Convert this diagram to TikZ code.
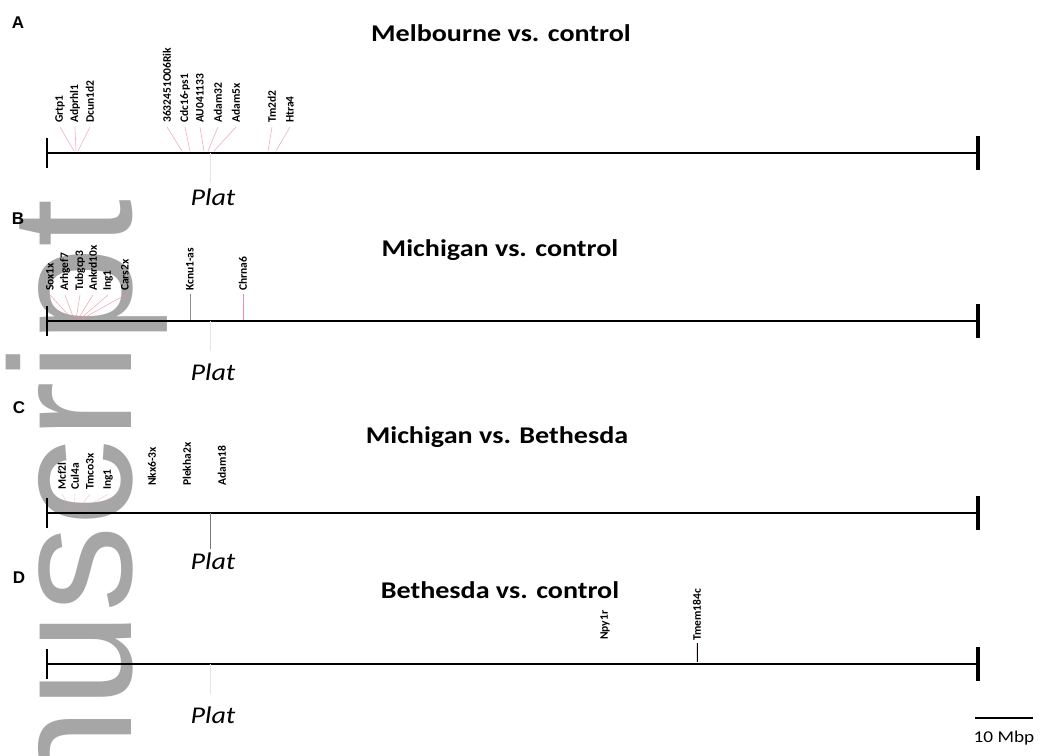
\documentclass[tikz,border=0pt]{standalone}
\usepackage{fontspec}
\usetikzlibrary{calc}
\setmainfont[FakeStretch=1.17]{Carlito}
\newfontfamily\wmfamily{Liberation Sans}
\newfontfamily\letterfamily{Liberation Sans}
\newfontfamily\genefamily{Carlito}
\definecolor{wmgray}{RGB}{166,166,166}
\definecolor{linkpink}{RGB}{236,140,162}
\definecolor{dropgray}{RGB}{120,120,120}
\tikzset{
  chrom/.style={line width=2.6pt, line cap=butt},
  lefttick/.style={line width=2.4pt},
  righttick/.style={line width=3.6pt},
  gene/.style={rotate=90, anchor=west, inner sep=0pt, font=\genefamily\bfseries\fontsize{11.5}{11.5}\selectfont},
  link/.style={draw=linkpink, line width=0.6pt, opacity=0.7},
  glink/.style={draw=dropgray, line width=0.8pt},
  faint/.style={draw=black!10, line width=0.8pt},
  title/.style={font=\bfseries\fontsize{24}{24}\selectfont, inner sep=0pt},
  panel/.style={font=\letterfamily\bfseries\fontsize{17}{17}\selectfont, inner sep=0pt},
  locus/.style={font=\itshape\fontsize{24}{24}\selectfont, inner sep=0pt},
}
\begin{document}
\begin{tikzpicture}[x=1pt, y=-1pt]
\useasboundingbox (0,0) rectangle (1052,755);
\clip (0,0) rectangle (1052,755);
\fill[white] (0,0) rectangle (1052,755);

% watermark running up the left margin
\node[rotate=90, anchor=base east, inner sep=0pt, text=wmgray,
      font=\wmfamily\fontsize{173}{173}\selectfont] (wm) at (131,199) {nuscript};

% ---------- panel A ----------
\node[panel] (pA) at (18,23) {A};
\node[title] (tA) at (501,33) {Melbourne vs. control};
\coordinate (a0) at (47,153); \coordinate (a1) at (978,153);
\draw[chrom] (a0) -- (a1);
\draw[lefttick] ($(a0)+(0,-15)$) -- ($(a0)+(0,15)$);
\draw[righttick] ($(a1)+(0,-17)$) -- ($(a1)+(0,17)$);
\node[locus] (plA) at (213,197) {Plat};
\coordinate (pa) at (210,153);
\draw[faint] (pa) -- ++(0,30);

\foreach \n/\x/\t/\p in {
  g1/60/Grtp1/74, g2/75/Adprhl1/76, g3/90/Dcun1d2/78,
  g4/167/3632451O06Rik/182, g5/185/Cdc16-ps1/190, g6/200/AU041133/204,
  g7/218/Adam32/208, g8/236/Adam5x/214, g9/272/Tm2d2/268, g10/290/Htra4/276}{
  \node[gene] (A\n) at (\x,123) {\t};
  \coordinate (A\n h) at (\p,151);
  \draw[link] ($(A\n.west)+(0,4)$) -- (A\n h);
}

% ---------- panel B ----------
\node[panel] (pB) at (18,219) {B};
\node[title] (tB) at (500,250) {Michigan vs. control};
\coordinate (b0) at (47,321); \coordinate (b1) at (978,321);
\draw[chrom] (b0) -- (b1);
\draw[lefttick] ($(b0)+(0,-15)$) -- ($(b0)+(0,15)$);
\draw[righttick] ($(b1)+(0,-17)$) -- ($(b1)+(0,17)$);
\node[locus] (plB) at (213,372) {Plat};
\coordinate (pb) at (210,321);
\draw[faint] (pb) -- ++(0,30);

\foreach \n/\x/\t/\p in {
  g1/50/Sox1x/72, g2/65/Arhgef7/74, g3/80/Tubgcp3/76,
  g4/93/Ankrd10x/78, g5/108/Ing1/80, g6/125/Cars2x/82}{
  \node[gene] (B\n) at (\x,291) {\t};
  \coordinate (B\n h) at (\p,319);
  \draw[link] ($(B\n.west)+(0,4)$) -- (B\n h);
}
\node[gene] (Bg7) at (190,291) {Kcnu1-as};
\coordinate (Bg7h) at (190,320);
\draw[glink, draw=black!45] ($(Bg7.west)+(0,3)$) -- (Bg7h);
\node[gene] (Bg8) at (243,291) {Chrna6};
\coordinate (Bg8h) at (243,320);
\draw[link, opacity=1] ($(Bg8.west)+(0,3)$) -- (Bg8h);

% ---------- panel C ----------
\node[panel] (pC) at (19,408) {C};
\node[title] (tC) at (497,437) {Michigan vs. Bethesda};
\coordinate (c0) at (47,513); \coordinate (c1) at (978,513);
\draw[chrom] (c0) -- (c1);
\draw[lefttick] ($(c0)+(0,-15)$) -- ($(c0)+(0,15)$);
\draw[righttick] ($(c1)+(0,-17)$) -- ($(c1)+(0,17)$);
\node[locus] (plC) at (213,561) {Plat};
\coordinate (pc) at (210,513);
\draw[glink] (pc) -- ++(0,36);

\foreach \n/\x/\t/\p in {
  g1/62/Mcf2l/72, g2/75/Cul4a/74, g3/90/Tmco3x/77, g4/108/Ing1/80}{
  \node[gene] (C\n) at (\x,490) {\t};
  \coordinate (C\n h) at (\p,511);
  \draw[link, opacity=0.4] ($(C\n.west)+(0,4)$) -- (C\n h);
}
\node[gene] (Cg5) at (152,486) {Nkx6-3x};
\node[gene] (Cg6) at (187,486) {Plekha2x};
\node[gene] (Cg7) at (222,486) {Adam18};

% ---------- panel D ----------
\node[panel] (pD) at (19,578) {D};
\node[title] (tD) at (500,590) {Bethesda vs. control};
\coordinate (d0) at (47,664); \coordinate (d1) at (978,664);
\draw[chrom] (d0) -- (d1);
\draw[lefttick] ($(d0)+(0,-15)$) -- ($(d0)+(0,15)$);
\draw[righttick] ($(d1)+(0,-17)$) -- ($(d1)+(0,17)$);
\node[locus] (plD) at (213,715) {Plat};
\coordinate (pd) at (210,664);
\draw[faint] (pd) -- ++(0,30);

\node[gene] (Dg1) at (605,640) {Npy1r};
\node[gene] (Dg2) at (697,641) {Tmem184c};
\coordinate (Dg2h) at (697,662);
\draw[link, line width=1.6pt, opacity=0.35] ($(Dg2.west)+(0,2)$) -- (Dg2h);
\draw[black, line width=0.8pt] ($(Dg2.west)+(0,2)$) -- (Dg2h);

% ---------- scale bar ----------
\coordinate (s0) at (975,718); \coordinate (s1) at (1033,718);
\draw[line width=1.8pt] (s0) -- (s1);
\node[font=\fontsize{16.5}{16.5}\selectfont, inner sep=0pt] (scl) at (1004,738) {10 Mbp};
\end{tikzpicture}
\end{document}
